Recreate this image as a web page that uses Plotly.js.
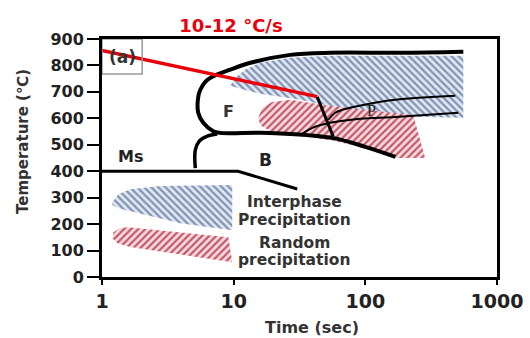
<!DOCTYPE html>
<html>
<head>
<meta charset="utf-8">
<script src="https://cdn.plot.ly/plotly-3.0.1.min.js"></script>
<style>
  html, body { margin: 0; padding: 0; background: #fff; }
  #chart { width: 530px; height: 338px; }
</style>
</head>
<body>
<div id="chart"></div>
<script>
// ---- Data (time in seconds, temperature in °C) ----
const xTickVals = [1, 10, 100, 1000];
const xTickText = ["1", "10", "100", "1000"];
const yTickVals = [0, 100, 200, 300, 400, 500, 600, 700, 800, 900];

// Ferrite nose + lower (bainite/ferrite) boundary
const ferriteTime = [555, 184, 54.1, 26.9, 13.4, 9.42, 6.88, 6.09, 5.58, 5.38, 5.38, 5.88, 7.0, 7.91, 18.9, 56.1, 100, 169];
const ferriteTemp = [852, 848, 848, 840, 810, 784, 757, 738, 708, 681, 621, 583, 551, 545, 545, 526, 492, 454];

// Bainite start curve
const bainiteTime = [5.11, 5.11, 5.48, 6.31, 7.5];
const bainiteTemp = [412, 480, 514, 533, 541];

// Ms line
const msTime = [1, 10.8, 30.4];
const msTemp = [400, 400, 333];

// Pearlite curves
const pearlUpperTime = [52.3, 59.1, 66.8, 88.4, 169, 482];
const pearlUpperTemp = [594, 621, 632, 647, 670, 685];
const pearlLowerTime = [32.0, 39.6, 54.1, 91.4, 169, 508];
const pearlLowerTemp = [537, 564, 583, 598, 605, 621];

// Cooling path
const coolTime = [1.0, 43.1];
const coolTemp = [857, 682];
const holdTime = [43.1, 57.0];
const holdTemp = [681, 532];

// Interphase precipitation region
const interTime = [9.42, 10.3, 12.2, 15.9, 26.9, 54.1, 184, 555, 555, 261, 130, 54.1, 32.0, 15.9, 11.2, 9.42];
const interTemp = [723, 753, 784, 810, 829, 837, 837, 837, 602, 605, 621, 647, 670, 693, 712, 723];

// Random precipitation region
const randTime = [15.4, 16.5, 19.6, 26.9, 54.1, 130, 231, 285, 169, 91.4, 54.1, 26.9, 18.9, 15.9, 15.4];
const randTemp = [602, 640, 662, 670, 647, 628, 613, 450, 450, 492, 518, 537, 552, 575, 602];

// Legend swatches
const legInterTime = [1.197, 1.33, 1.64, 2.77, 9.76, 9.76, 3.93, 1.954, 1.33, 1.197, 1.197];
const legInterTemp = [283, 313, 332, 344, 348, 177, 203, 238, 260, 272, 283];
const legRandTime = [1.22, 1.377, 1.585, 9.12, 9.76, 3.93, 1.64, 1.31, 1.197, 1.22];
const legRandTemp = [169, 185, 188, 150, 56, 86, 113, 128, 147, 169];

// ---- Styles ----
const blueStripe = "#7f93b7", blueBg = "#e2e7f0";
const redStripe = "#c65868", redBg = "#f6dce0";
const lineColor = "#000000";
const textColor = "#222222";

function region(x, y, shape, fg, bg) {
  return {
    x: x, y: y, type: "scatter", mode: "lines", fill: "toself",
    line: { width: 0, color: "rgba(0,0,0,0)" },
    fillcolor: bg,
    fillpattern: { shape: shape, fgcolor: fg, bgcolor: bg, size: 5, solidity: 0.45 },
    hoverinfo: "skip", showlegend: false
  };
}
function curve(x, y, w, color, shape) {
  return {
    x: x, y: y, type: "scatter", mode: "lines",
    line: { width: w, color: color, shape: shape || "linear", smoothing: 1 },
    hoverinfo: "skip", showlegend: false
  };
}

const traces = [
  region(interTime, interTemp, "\\", blueStripe, blueBg),
  region(randTime, randTemp, "/", redStripe, redBg),
  region(legInterTime, legInterTemp, "\\", blueStripe, blueBg),
  region(legRandTime, legRandTemp, "/", redStripe, redBg),
  curve(ferriteTime, ferriteTemp, 4, lineColor, "spline"),
  curve(bainiteTime, bainiteTemp, 3.5, lineColor, "spline"),
  curve(msTime, msTemp, 3, lineColor, "linear"),
  curve(pearlUpperTime, pearlUpperTemp, 2, lineColor, "spline"),
  curve(pearlLowerTime, pearlLowerTemp, 2, lineColor, "spline"),
  curve(coolTime, coolTemp, 3.5, "#e8000b", "linear"),
  curve(holdTime, holdTemp, 3, lineColor, "linear")
];

const boldFont = "DejaVu Sans, Verdana, sans-serif";

// plot area in pixels: x 102..497, y 39..277
function px2paperX(px) { return (px - 102) / 395; }
function px2paperY(py) { return (277 - py) / 238; }

const layout = {
  width: 530, height: 338,
  margin: { l: 102, r: 33, t: 39, b: 61 },
  paper_bgcolor: "#ffffff", plot_bgcolor: "#ffffff",
  showlegend: false,
  title: {
    text: "<b>10-12 °C/s</b>",
    font: { family: boldFont, size: 18, color: "#e8000b" },
    x: 231 / 530, xanchor: "center", xref: "container",
    y: 1 - 26 / 338, yanchor: "middle", yref: "container"
  },
  xaxis: {
    type: "log", range: [0, 3], autorange: false,
    tickvals: xTickVals, ticktext: xTickText,
    ticks: "outside", ticklen: 5, tickwidth: 2, tickcolor: "#000",
    showline: true, linewidth: 3, linecolor: "#000", mirror: true,
    showgrid: false, zeroline: false,
    tickfont: { family: boldFont, size: 19, color: textColor, weight: "bold" }
  },
  yaxis: {
    range: [0, 900], autorange: false,
    tickvals: yTickVals,
    ticks: "outside", ticklen: 12, tickwidth: 2, tickcolor: "#000",
    showline: true, linewidth: 3, linecolor: "#000", mirror: true,
    showgrid: false, zeroline: false,
    tickfont: { family: boldFont, size: 16, color: textColor, weight: "bold" }
  },
  shapes: [
    { type: "rect", xref: "x", yref: "y", x0: 1, x1: 2.02, y0: 768, y1: 900,
      line: { color: "#9a9a9a", width: 1.5 }, fillcolor: "rgba(0,0,0,0)" }
  ],
  annotations: [
    { text: "<b>(a)</b>", x: Math.log10(1.426), y: 833, xref: "x", yref: "y", showarrow: false,
      font: { family: boldFont, size: 17, color: "#333" } },
    { text: "<b>F</b>", x: Math.log10(9.1), y: 624, xref: "x", yref: "y", showarrow: false,
      font: { family: boldFont, size: 16, color: "#333" } },
    { text: "<b>B</b>", x: Math.log10(17.4), y: 442, xref: "x", yref: "y", showarrow: false,
      font: { family: boldFont, size: 17, color: "#222" } },
    { text: "<b>Ms</b>", x: Math.log10(1.64), y: 454, xref: "x", yref: "y", showarrow: false,
      font: { family: boldFont, size: 16, color: "#222" } },
    { text: "P", x: Math.log10(111), y: 628, xref: "x", yref: "y", showarrow: false,
      font: { family: "Liberation Serif, serif", size: 16, color: "#222" } },
    { text: "<b>Interphase</b>", x: Math.log10(28.9), y: 283, xref: "x", yref: "y", showarrow: false,
      font: { family: boldFont, size: 15.5, color: "#333" } },
    { text: "<b>Precipitation</b>", x: Math.log10(28.9), y: 215, xref: "x", yref: "y", showarrow: false,
      font: { family: boldFont, size: 15.5, color: "#333" } },
    { text: "<b>Random</b>", x: Math.log10(28.9), y: 128, xref: "x", yref: "y", showarrow: false,
      font: { family: boldFont, size: 15.5, color: "#333" } },
    { text: "<b>precipitation</b>", x: Math.log10(28.9), y: 63, xref: "x", yref: "y", showarrow: false,
      font: { family: boldFont, size: 15.5, color: "#333" } },
    { text: "<b>Time (sec)</b>", x: px2paperX(312), y: px2paperY(327), xref: "paper", yref: "paper",
      xanchor: "center", yanchor: "middle", showarrow: false,
      font: { family: boldFont, size: 16, color: "#333" } },
    { text: "<b>Temperature (℃)</b>", x: px2paperX(23), y: px2paperY(142), xref: "paper", yref: "paper",
      xanchor: "center", yanchor: "middle", textangle: -90, showarrow: false,
      font: { family: boldFont, size: 15, color: "#333" } }
  ]
};

Plotly.newPlot("chart", traces, layout, { staticPlot: true, displayModeBar: false });
</script>
</body>
</html>
